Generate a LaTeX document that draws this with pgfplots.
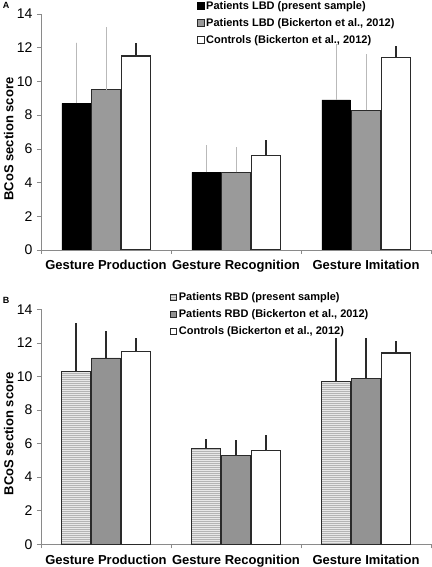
\documentclass[border=0pt]{standalone}
\usepackage{pgfplots}
\pgfplotsset{compat=1.18}
\usepackage{fontspec}
\setmainfont{Liberation Sans}
\usetikzlibrary{patterns.meta}
\definecolor{barG}{HTML}{9A9A9A}
\definecolor{barG2}{HTML}{939393}
\definecolor{edgeD}{HTML}{2A2A2A}
\definecolor{stripeBG}{HTML}{E8E8E8}
\definecolor{stripeLn}{HTML}{B4B4B4}
\definecolor{axisC}{HTML}{8A8A8A}
\pgfplotsset{
  bcos/.style={
    scale only axis, width=390pt, height=236pt,
    ybar=1.5pt, bar width=28.5pt,
    xmin=-0.5, xmax=2.5, ymin=0, ymax=14,
    xtick={-0.5,0.5,1.5,2.5}, x tick label as interval,
    xticklabels={Gesture Production, Gesture Recognition, Gesture Imitation},
    ytick={0,2,...,14},
    axis lines=left, axis line style={-, draw=axisC, line width=0.6pt},
    tick align=outside, major tick length=4pt,
    tick style={draw=axisC, line width=0.6pt},
    /pgf/number format/assume math mode=true,
    yticklabel style={font=\fontsize{14}{14}\selectfont, xshift=-1pt},
    xticklabel style={font=\bfseries\fontsize{13}{13}\selectfont, yshift=-3pt},
    ylabel={BCoS section score},
    ylabel style={at={(axis description cs:-0.083,0.47)}, anchor=center, rotate=0, font=\bfseries\fontsize{13}{13}\selectfont},
    legend style={draw=none, fill=none, anchor=north west, inner sep=0pt,
      font=\bfseries\fontsize{11}{12}\selectfont, row sep=3.5pt,
      nodes={inner xsep=2pt}},
    legend cell align=left,
    every axis plot post/.append style={
      legend image code/.code={\draw[##1, line width=0.6pt] (0pt,-3.2pt) rectangle (6.4pt,3.2pt);}},
    error bars/y dir=plus, error bars/y explicit, error bars/error mark=none,
  }
}
\begin{document}
\begin{tikzpicture}
\useasboundingbox (0,0) rectangle (431pt,567pt);
\node[font=\bfseries\fontsize{9}{9}\selectfont] at (6pt,562pt) {A};
\node[font=\bfseries\fontsize{9}{9}\selectfont] at (6pt,267pt) {B};

\begin{axis}[bcos, at={(41pt,317pt)}, anchor=south west,
  legend style={at={(0.4,1)}, yshift=15pt}]
\addplot[fill=black, draw=black, error bars/error bar style={draw=gray!55, line width=0.7pt}]
  coordinates {(0,8.7) +- (0,3.6) (1,4.6) +- (0,1.6) (2,8.9) +- (0,3.3)};
\addplot[fill=barG, draw=edgeD, line width=0.8pt, error bars/error bar style={draw=gray!55, line width=0.7pt}]
  coordinates {(0,9.5) +- (0,3.7) (1,4.6) +- (0,1.5) (2,8.3) +- (0,3.3)};
\addplot[fill=white, draw=edgeD, line width=1.3pt, error bars/error bar style={draw=edgeD, line width=1.3pt}]
  coordinates {(0,11.5) +- (0,0.8) (1,5.6) +- (0,0.9) (2,11.4) +- (0,0.7)};
\legend{{Patients LBD (present sample)}, {Patients LBD (Bickerton et al., 2012)}, {Controls (Bickerton et al., 2012)}}
\end{axis}

\begin{axis}[bcos, at={(41pt,22.7pt)}, anchor=south west, height=235pt,
  legend style={at={(0.33,1)}, yshift=19pt}]
\addplot[fill=stripeBG, draw=edgeD, line width=0.8pt,
  postaction={pattern={Lines[angle=0,distance=2pt,line width=0.5pt]}, pattern color=stripeLn},
  error bars/error bar style={draw=edgeD, line width=1.1pt}]
  coordinates {(0,10.3) +- (0,2.9) (1,5.7) +- (0,0.6) (2,9.7) +- (0,2.6)};
\addplot[fill=barG2, draw=edgeD, line width=0.8pt, error bars/error bar style={draw=edgeD, line width=1.1pt}]
  coordinates {(0,11.1) +- (0,1.6) (1,5.3) +- (0,0.9) (2,9.9) +- (0,2.4)};
\addplot[fill=white, draw=edgeD, line width=1.3pt, error bars/error bar style={draw=edgeD, line width=1.1pt}]
  coordinates {(0,11.5) +- (0,0.8) (1,5.6) +- (0,0.9) (2,11.4) +- (0,0.7)};
\legend{{Patients RBD (present sample)}, {Patients RBD (Bickerton et al., 2012)}, {Controls (Bickerton et al., 2012)}}
\end{axis}
\end{tikzpicture}
\end{document}
